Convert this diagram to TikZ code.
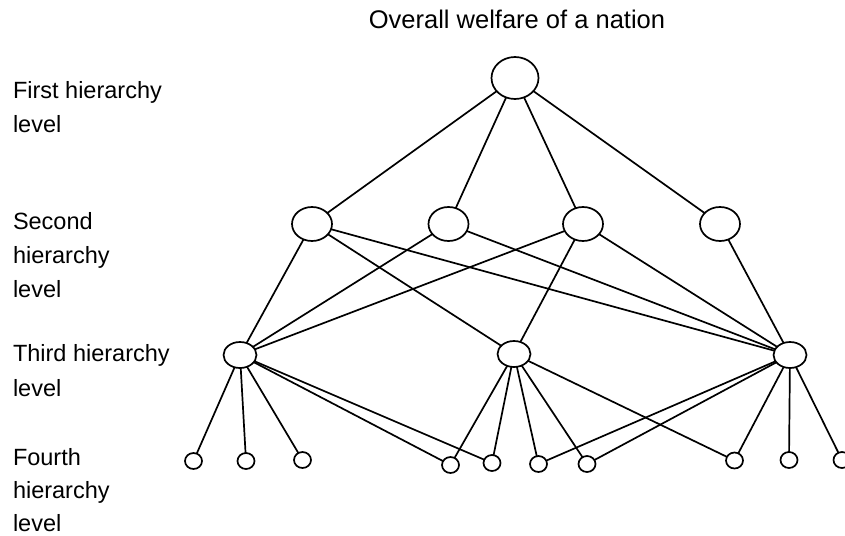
\documentclass[tikz,border=0pt]{standalone}
\usepackage{fontspec}
\setmainfont{Liberation Sans}
\usetikzlibrary{shapes.geometric}
\begin{document}
\begin{tikzpicture}[x=1pt,y=-1pt,
  every node/.style={inner sep=0pt, outer sep=0pt},
  nd/.style={draw, ellipse, line width=1.7pt},
  topnode/.style={nd, minimum width=47pt, minimum height=42pt},
  lvtwo/.style={nd, minimum width=40pt, minimum height=34pt},
  lvthree/.style={nd, minimum width=33pt, minimum height=26pt},
  leaf/.style={nd, minimum width=17pt, minimum height=16pt},
  conn/.style={line width=1.7pt},
  lbl/.style={anchor=base west, font=\fontsize{23.5}{28}\selectfont},
  ttl/.style={anchor=base, font=\fontsize{25.5}{30}\selectfont}]
\useasboundingbox (0,0) rectangle (845,535);

% texts
\node[ttl] (title) at (517,29) {Overall welfare of a nation};
\node[lbl] (l1a) at (13,98) {First hierarchy};
\node[lbl] (l1b) at (13,132) {level};
\node[lbl] (l2a) at (13,229) {Second};
\node[lbl] (l2b) at (13,263) {hierarchy};
\node[lbl] (l2c) at (13,297) {level};
\node[lbl] (l3a) at (13,361) {Third hierarchy};
\node[lbl] (l3b) at (13,396) {level};
\node[lbl] (l4a) at (13,465) {Fourth};
\node[lbl] (l4b) at (13,498) {hierarchy};
\node[lbl] (l4c) at (13,531) {level};

% nodes
\node[topnode] (T) at (515,78) {};
\node[lvtwo] (A) at (312,224) {};
\node[lvtwo] (B) at (448.5,224) {};
\node[lvtwo] (C) at (583,224) {};
\node[lvtwo] (D) at (720,224) {};
\node[lvthree] (L) at (240,355) {};
\node[lvthree] (M) at (514,354) {};
\node[lvthree] (R) at (790,355) {};
\node[leaf] (f1) at (193.5,461) {};
\node[leaf] (f2) at (246,461) {};
\node[leaf] (f3) at (302.5,460) {};
\node[leaf] (f4) at (450.5,465) {};
\node[leaf] (f5) at (492,463) {};
\node[leaf] (f6) at (538.5,464) {};
\node[leaf] (f7) at (587,464) {};
\node[leaf] (f8) at (734.5,460.5) {};
\node[leaf] (f9) at (789,460) {};
\node[leaf] (f10) at (842,460) {};

% connectors
\foreach \a/\b in {T/A,T/B,T/C,T/D,
  A/L,A/M,A/R,B/L,B/R,C/L,C/M,C/R,D/R,
  L/f1,L/f2,L/f3,L/f4,L/f5,
  M/f4,M/f5,M/f6,M/f7,M/f8,
  R/f6,R/f7,R/f8,R/f9,R/f10}
  \draw[conn] (\a) -- (\b);
\end{tikzpicture}
\end{document}
